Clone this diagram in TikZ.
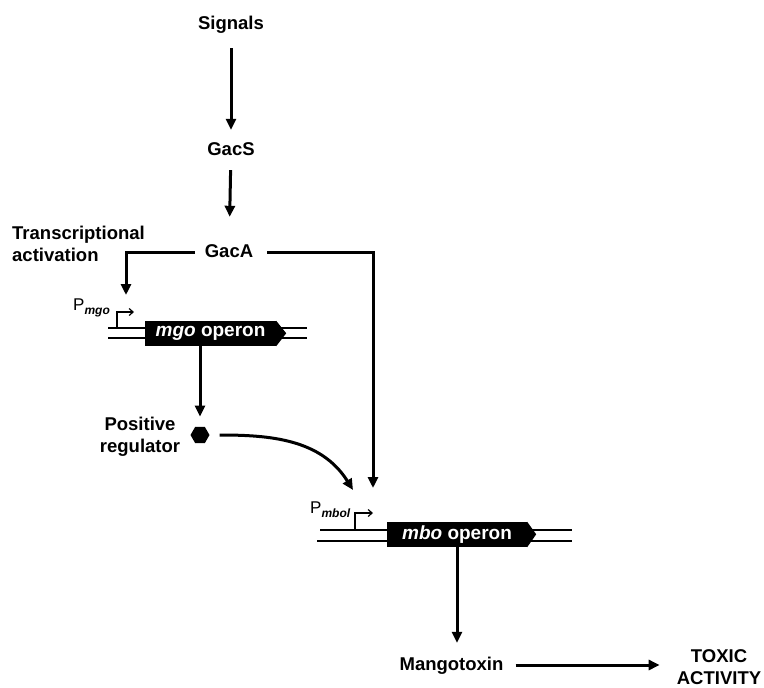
\documentclass[tikz,border=0pt]{standalone}
\usepackage{fontspec}
\setmainfont{Liberation Sans}
\usetikzlibrary{arrows.meta,shapes.geometric}
\begin{document}
\begin{tikzpicture}[x=1pt,y=-1pt,
  lbl/.style={font=\fontsize{18.5}{22}\selectfont\bfseries, inner sep=2pt, text height=14pt, text depth=4pt},
  mlbl/.style={font=\fontsize{18.5}{22}\selectfont\bfseries, inner sep=2pt, align=center},
  arr/.style={line width=3pt, -{Triangle[length=11pt,width=10pt]}},
  dna/.style={line width=1.2pt},
  prom/.style={line width=1.2pt, -{Straight Barb[length=4pt,width=7pt]}},
  operon/.style={fill=black, text=white, inner sep=0pt, font=\fontsize{19}{22}\selectfont\bfseries},
  plabel/.style={anchor=base west, inner sep=0pt, font=\fontsize{17}{20}\selectfont}
]
\fill[white] (0,0) rectangle (764,688);
\useasboundingbox (0,0) rectangle (764,688);

% main labels
\node[lbl, anchor=base] (sig) at (231,29) {Signals};
\node[lbl, anchor=base] (gacs) at (231,155) {GacS};
\node[lbl, anchor=base] (gaca) at (229,257) {GacA};
\node[mlbl, align=left, anchor=west] (ta) at (10,244) {Transcriptional\\activation};

\draw[arr, shorten <=13pt, shorten >=9pt] (sig) -- (gacs);
\draw[arr, shorten <=9pt, shorten >=24pt] (gacs) -- (gaca);

% connectors from GacA
\coordinate (mgotarget) at (126,295);
\coordinate (mbotarget) at (373,488);
\draw[arr] ([xshift=-8pt]gaca.west) -| (mgotarget);
\draw[arr, shorten <=12pt] (gaca.east) -| (mbotarget);

% mgo operon
\draw[dna] (108,328) -- (307,328);
\draw[dna] (108,338) -- (307,338);
\node[operon, minimum width=131pt, minimum height=25pt] (mgobox) at (210.5,333.5) {\itshape mgo\upshape{} operon};
\fill (mgobox.north east) -- ++(10,12.5) -- (mgobox.south east) -- cycle;
\coordinate (tss1) at (117,328);
\draw[prom] (tss1) -- ++(0,-16) -- ++(17,0);
\node[plabel] (pmgo) at (73,310) {P\raisebox{-4pt}{\fontsize{12}{14}\selectfont\bfseries\itshape mgo}};

% positive regulator
\node[regular polygon, regular polygon sides=6, fill=black, inner sep=0pt, minimum size=19pt] (hex) at (200,435) {};
\node[mlbl] (posreg) at (140,437) {Positive\\regulator};
\draw[arr, shorten >=10pt] (mgobox.south -| hex) -- (hex.north);
\coordinate (curvetip) at (353,490);
\draw[arr, shorten <=10pt] (hex.east) to[out=0, in=122] (curvetip);

% mbo operon
\draw[dna] (320,530) -- (572,530);
\draw[dna] (317,541) -- (572,541);
\node[operon, minimum width=140pt, minimum height=25pt] (mbobox) at (457,534.5) {\itshape mbo\upshape{} operon};
\fill (mbobox.north east) -- ++(9,12.5) -- (mbobox.south east) -- cycle;
\coordinate (tss2) at (355,530);
\draw[prom] (tss2) -- ++(0,-17) -- ++(18,0);
\node[plabel] (pmbo) at (310,513) {P\raisebox{-4pt}{\fontsize{12}{14}\selectfont\bfseries\itshape mbol}};

% products
\node[lbl, anchor=base] (mango) at (451.5,670) {Mangotoxin};
\node[mlbl] (toxic) at (719,667) {TOXIC\\ACTIVITY};
\draw[arr, shorten >=11pt] (mbobox.south) -- (mbobox.south |- mango.north);
\draw[arr, shorten <=10pt, shorten >=15pt] (mango.east) -- (mango.east -| toxic.west);
\end{tikzpicture}
\end{document}
